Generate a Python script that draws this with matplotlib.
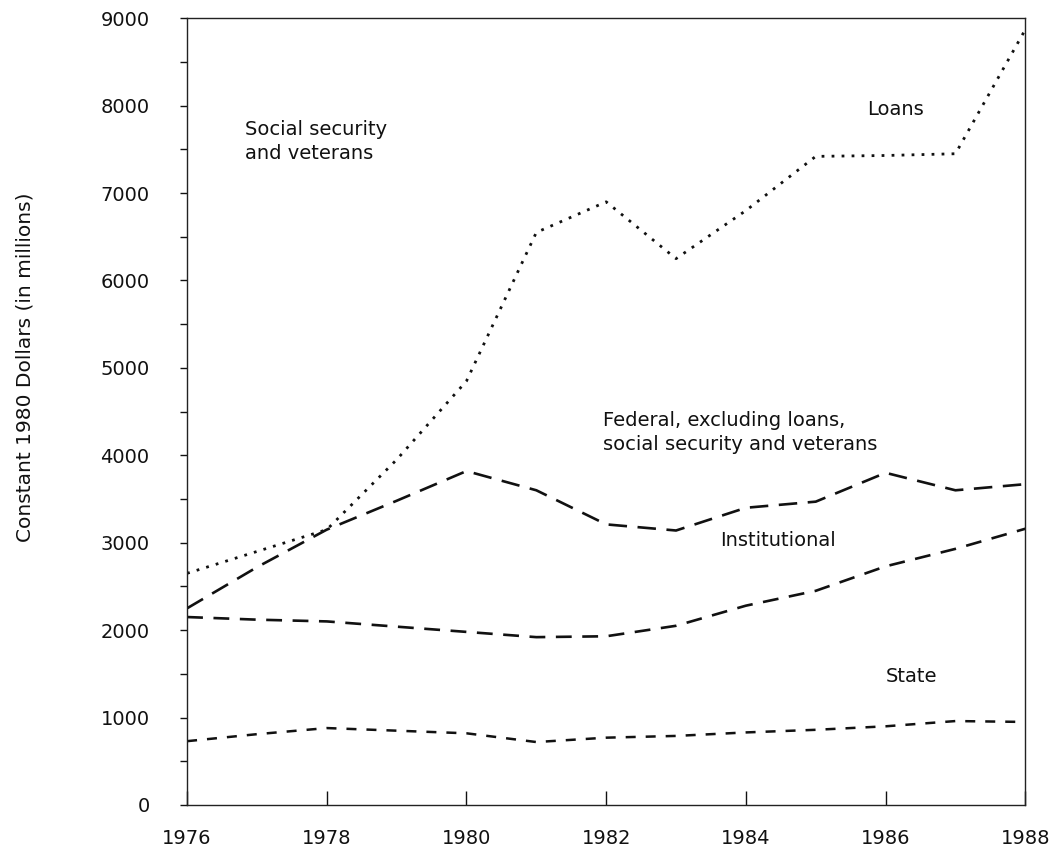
import matplotlib
matplotlib.use("Agg")
import matplotlib.pyplot as plt
from matplotlib.ticker import MultipleLocator

years = [1976, 1977, 1978, 1979, 1980, 1981, 1982, 1983, 1984, 1985, 1986, 1987, 1988]
loans = [2650, 2900, 3150, 3950, 4850, 6550, 6900, 6250, 6800, 7420, 7430, 7450, 8870]
federal = [2250, 2720, 3150, 3480, 3820, 3600, 3210, 3140, 3400, 3470, 3800, 3600, 3670]
institutional = [2150, 2120, 2100, 2040, 1980, 1920, 1930, 2050, 2280, 2450, 2730, 2930, 3160]
state = [730, 810, 880, 850, 820, 720, 770, 790, 830, 860, 900, 960, 950]

x_ticks = [1976, 1978, 1980, 1982, 1984, 1986, 1988]
y_ticks = [0, 1000, 2000, 3000, 4000, 5000, 6000, 7000, 8000, 9000]

plt.rcParams['font.family'] = ['DejaVu Sans']
fig = plt.figure(figsize=(10.57, 8.57), dpi=100)
ax = fig.add_axes([0.177, 0.0607, 0.793, 0.918])

c = '#111111'
ax.plot(years, loans, color=c, lw=2.0, linestyle=(0, (1.0, 2.6)))
ax.plot(years, federal, color=c, lw=1.9, linestyle=(0, (7, 4)))
ax.plot(years, institutional, color=c, lw=1.9, linestyle=(0, (6, 4)))
ax.plot(years, state, color=c, lw=1.8, linestyle=(0, (4, 4)))

ax.set_xlim(1976, 1988)
ax.set_ylim(0, 9000)
ax.set_xticks(x_ticks)
ax.set_xticklabels([str(v) for v in x_ticks])
ax.set_yticks(y_ticks)
ax.set_yticklabels([str(v) for v in y_ticks])
ax.yaxis.set_minor_locator(MultipleLocator(500))
fs = 14
ax.tick_params(axis='x', direction='in', length=10, width=1, pad=17, labelsize=fs, colors=c)
ax.tick_params(axis='y', which='both', direction='out', length=5, width=1, pad=22, labelsize=fs, colors=c)
ax.tick_params(axis='y', which='minor', length=5)
for s in ax.spines.values():
    s.set_linewidth(1.0)
    s.set_color('#222222')

fig.text(25 / 1057, 1 - 367 / 857, 'Constant 1980 Dollars (in millions)', fontsize=14.5,
         rotation=90, ha='center', va='center', color=c)

ax.text(1976.83, 7590, 'Social security\nand veterans', fontsize=fs, va='center', ha='left', color=c, linespacing=1.3)
ax.text(1985.74, 7960, 'Loans', fontsize=fs, va='center', ha='left', color=c)
ax.text(1981.96, 4020, 'Federal, excluding loans,\nsocial security and veterans', fontsize=fs, va='bottom', ha='left', color=c, linespacing=1.3)
ax.text(1983.63, 3020, 'Institutional', fontsize=fs, va='center', ha='left', color=c)
ax.text(1986.0, 1470, 'State', fontsize=fs, va='center', ha='left', color=c)

fig.savefig('out.png', dpi=100)
